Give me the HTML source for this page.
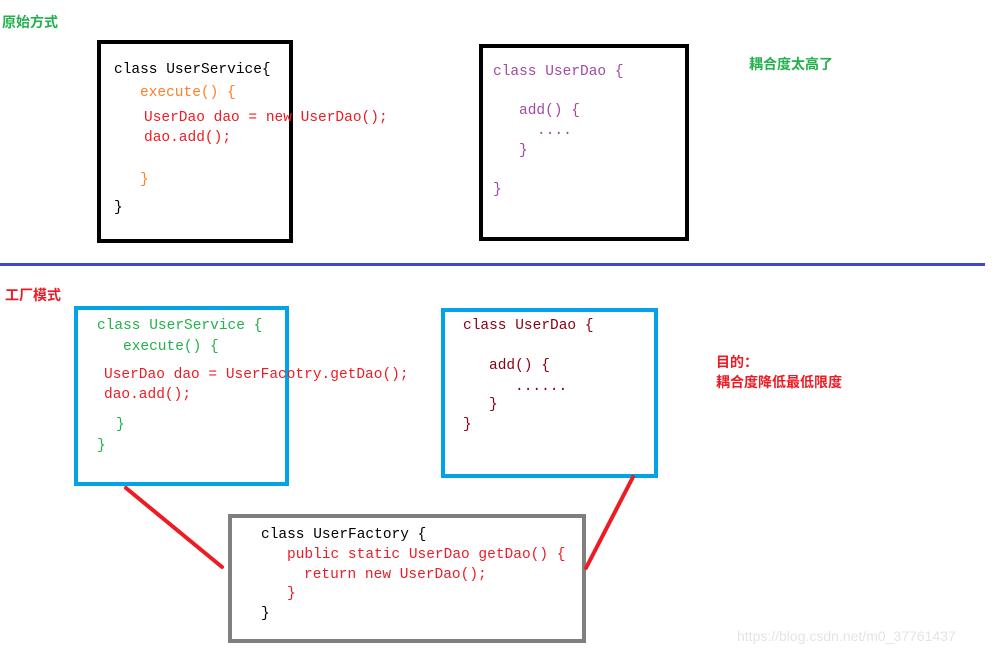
<!DOCTYPE html>
<html><head><meta charset="utf-8"><style>
body{margin:0;width:995px;height:655px;background:#fff;position:relative;overflow:hidden;font-family:"Liberation Mono","Noto Sans CJK SC",monospace;}
.t{position:absolute;font-size:14.5px;line-height:16px;white-space:pre;}
.c{position:absolute;font-family:"Liberation Sans","Noto Sans CJK SC",sans-serif;font-size:14px;line-height:16px;font-weight:bold;white-space:pre;}
.b{position:absolute;box-sizing:border-box;}
.k{color:#000}.o{color:#ff7f27}.r{color:#ed1c24}.p{color:#a349a4}.g{color:#22b14c}.d{color:#880015}
</style></head><body>
<div class="c g" style="left:2px;top:14px">原始方式</div>
<div class="b" style="left:97px;top:40px;width:196px;height:203px;border:4px solid #000"></div>
<div class="b" style="left:479px;top:44px;width:210px;height:197px;border:4px solid #000"></div>
<div class="t k" style="left:114px;top:62px">class UserService{</div>
<div class="t o" style="left:140px;top:85px">execute() {</div>
<div class="t r" style="left:144px;top:110px">UserDao dao = new UserDao();</div>
<div class="t r" style="left:144px;top:130px">dao.add();</div>
<div class="t o" style="left:140px;top:172px">}</div>
<div class="t k" style="left:114px;top:200px">}</div>
<div class="t p" style="left:493px;top:64px">class UserDao {</div>
<div class="t p" style="left:519px;top:103px">add() {</div>
<div class="t p" style="left:537px;top:123px">....</div>
<div class="t p" style="left:519px;top:143px">}</div>
<div class="t p" style="left:493px;top:182px">}</div>
<div class="c g" style="left:749px;top:56px">耦合度太高了</div>
<div class="b" style="left:0;top:263px;width:985px;height:3px;background:#3f48cc"></div>
<div class="c r" style="left:5px;top:287px">工厂模式</div>
<div class="b" style="left:74px;top:306px;width:215px;height:180px;border:4px solid #00a2e8"></div>
<div class="b" style="left:441px;top:308px;width:217px;height:170px;border:4px solid #00a2e8"></div>
<div class="b" style="left:228px;top:514px;width:358px;height:129px;border:4px solid #7f7f7f"></div>
<div class="t g" style="left:97px;top:318px">class UserService {</div>
<div class="t g" style="left:123px;top:339px">execute() {</div>
<div class="t r" style="left:104px;top:367px">UserDao dao = UserFacotry.getDao();</div>
<div class="t r" style="left:104px;top:387px">dao.add();</div>
<div class="t g" style="left:116px;top:417px">}</div>
<div class="t g" style="left:97px;top:438px">}</div>
<div class="t d" style="left:463px;top:318px">class UserDao {</div>
<div class="t d" style="left:489px;top:358px">add() {</div>
<div class="t d" style="left:515px;top:379px">......</div>
<div class="t d" style="left:489px;top:397px">}</div>
<div class="t d" style="left:463px;top:417px">}</div>
<div class="c r" style="left:716px;top:354px">目的：</div>
<div class="c r" style="left:716px;top:374px">耦合度降低最低限度</div>
<div class="t k" style="left:261px;top:527px">class UserFactory {</div>
<div class="t r" style="left:287px;top:547px">public static UserDao getDao() {</div>
<div class="t r" style="left:304px;top:567px">return new UserDao();</div>
<div class="t r" style="left:287px;top:586px">}</div>
<div class="t k" style="left:261px;top:606px">}</div>
<svg style="position:absolute;left:0;top:0" width="995" height="655">
<line x1="126" y1="488" x2="222" y2="567" stroke="#ed1c24" stroke-width="4" stroke-linecap="round"/>
<line x1="633" y1="477" x2="586" y2="568" stroke="#ed1c24" stroke-width="4" stroke-linecap="round"/>
</svg>
<div style="position:absolute;left:737px;top:628px;font-family:'Liberation Sans',sans-serif;font-size:14px;color:#e4e4e4;white-space:pre">https://blog.csdn.net/m0_37761437</div>
</body></html>
